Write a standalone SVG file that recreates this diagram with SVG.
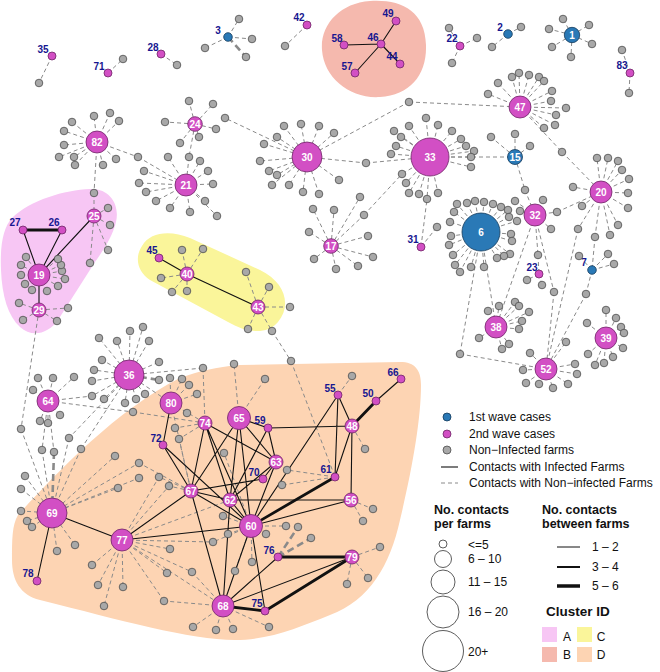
<svg xmlns="http://www.w3.org/2000/svg" width="660" height="672" viewBox="0 0 660 672">
<style>
.d{fill:none;stroke:#8a8a8a;stroke-width:1;stroke-dasharray:4 3}
.dt{fill:none;stroke:#8a8a8a;stroke-width:2.6;stroke-dasharray:7 4}
.s{fill:none;stroke:#111;stroke-width:1.1}
.s3{fill:none;stroke:#111;stroke-width:2.8}
.g circle{fill:#a8a8a8;stroke:#4d4d4d;stroke-width:0.8}
.p{fill:#d24fc4;stroke:#6e2466;stroke-width:0.8}
.b{fill:#2a79b6;stroke:#143a5a;stroke-width:0.8}
.lo{font:bold 10px "Liberation Sans",Arial,sans-serif;fill:#161690;text-anchor:middle}
.li{font:bold 10px "Liberation Sans",Arial,sans-serif;fill:#fff;text-anchor:middle}
.lg{font:12px "Liberation Sans",Arial,sans-serif;fill:#111}
.lh{font:bold 12.5px "Liberation Sans",Arial,sans-serif;fill:#111}
</style>
<rect width="660" height="672" fill="#fff"/>
<g id="clusters">
<path id="clusterA" fill="#f7c6f4" d="M12,218 C30,200 65,190 90,189 C110,188 120,205 116,222 C113,235 105,248 95,262 L58,320 C48,334 32,338 20,327 C8,316 2,296 1,270 C0,245 3,228 12,218 Z"/>
<path id="clusterB" fill="#f5b9ae" d="M322,50 C320,25 340,3 370,1 C400,-1 425,10 426,45 C427,75 410,95 380,97 C350,99 324,78 322,50 Z"/>
<path id="clusterC" fill="#faf59a" d="M142,246 C150,232 170,230 190,238 L260,270 C285,282 292,305 278,322 C266,336 245,332 228,322 L150,280 C138,272 134,258 142,246 Z"/>
<path id="clusterD" fill="#fdd4b3" d="M18,515 C50,480 115,410 180,378 C200,371 215,367 240,365 L400,362 C415,362 421,370 421,385 C421,420 412,470 400,520 C390,565 370,600 330,615 C300,627 270,640 235,640 C190,640 120,620 40,600 C20,595 12,580 12,560 C12,540 12,525 18,515 Z"/>
</g>
<g id="connectors">
<path class="d" d="M97 142L94 116M97 142L110 113M97 142L119 121M97 142L72 122M97 142L64 131M97 142L64 145M97 142L59 157M97 142L74 157M97 142L75 165M97 142L103 165M97 142L116 159M97 142L138 157M138 157L186 185M97 142L94 193M94 193L94 216"/>
<path class="d" d="M195 124L189 101M195 124L213 104M195 124L165 122M195 124L216 129M195 124L199 137M195 124L180 143M195 124L189 157M189 157L186 185"/>
<path class="d" d="M186 185L144 171M186 185L139 183M186 185L146 192M186 185L156 201M186 185L170 208M186 185L190 212M186 185L205 201M186 185L213 184M186 185L208 171M186 185L217 216M186 185L168 157M186 185L200 161"/>
<path class="d" d="M307 157L284 126M307 157L301 124M307 157L319 126M307 157L334 133M307 157L277 137M307 157L264 144M307 157L260 161M307 157L269 171M307 157L277 175M307 157L272 185M307 157L289 185M307 157L303 192M307 157L319 194M307 157L339 180M307 157L225 118M307 157L366 163M366 163L430 157M307 157L409 102M409 102L520 107"/>
<path class="d" d="M430 157L409 126M430 157L394 131M430 157L401 137M430 157L396 146M430 157L391 154M430 157L426 118M430 157L438 125M430 157L452 131M430 157L461 139M430 157L466 146M430 157L474 151M430 157L471 157M430 157L471 167M430 157L402 174M430 157L406 183M430 157L409 193M430 157L419 194M430 157L427 199M430 157L438 193M430 157L515 157"/>
<path class="d" d="M520 107L498 83M520 107L512 77M520 107L519 73M520 107L529 75M520 107L539 77M520 107L544 81M520 107L552 91M520 107L551 101M520 107L566 108M520 107L556 115M520 107L555 125M520 107L544 128M520 107L488 94M520 107L562 152M562 152L601 192"/>
<path class="d" d="M515 157L491 137M515 157L515 134M515 157L530 146M515 157L525 190M525 190L535 215"/>
<path class="d" d="M601 192L629 179M601 192L622 170M601 192L628 193M601 192L628 208M601 192L618 225M601 192L610 235M601 192L595 237M601 192L582 206M601 192L573 187M601 192L597 158M601 192L608 158M601 192L618 161M595 237L592 270M601 192L578 229M578 229L546 369"/>
<path class="d" d="M535 215L543 200M535 215L515 201M535 215L520 211M535 215L551 229M535 215L557 212M557 212L601 192M535 215L538 255M538 255L539 274M535 215L554 292M554 292L546 369M535 215L496 327"/>
<path class="d" d="M481 232L457 204M481 232L467 203M481 232L475 201M481 232L484 202M481 232L493 204M481 232L501 207M481 232L508 210M481 232L509 217M481 232L517 221M481 232L511 234M481 232L512 241M481 232L510 254M481 232L504 256M481 232L497 258M481 232L484 267M481 232L471 267M481 232L460 272M481 232L455 265M481 232L453 255M481 232L449 245M481 232L451 236M481 232L450 222M481 232L454 212M481 232L496 327M481 232L460 354M460 354L546 369"/>
<path class="d" d="M539 274L527 280M539 274L542 285M592 270L579 256M592 270L608 254M592 270L614 264M592 270L586 294M586 294L546 369"/>
<path class="d" d="M496 327L488 311M496 327L499 306M496 327L515 302M496 327L519 306M496 327L529 312M496 327L522 321M496 327L519 329M496 327L479 338M496 327L502 349M496 327L509 344"/>
<path class="d" d="M606 338L606 310M606 338L616 318M606 338L621 327M606 338L624 333M606 338L587 323M606 338L588 354M606 338L595 365M606 338L604 363M606 338L613 357M606 338L623 348"/>
<path class="d" d="M546 369L530 353M546 369L523 370M546 369L526 383M546 369L539 384M546 369L553 388M546 369L568 384M546 369L577 374M546 369L575 364M546 369L566 342"/>
<path class="d" d="M331 246L313 209M331 246L334 210M331 246L360 197M331 246L364 215M364 215L402 174M331 246L309 232M331 246L368 236M331 246L373 257M331 246L358 266M331 246L336 269M331 246L314 259M421 247L427 199M421 247L437 227"/>
<path class="d" d="M52 56L39 83M108 73L123 59M161 54L177 65M228 37L239 19M228 37L252 39M228 37L205 48M307 25L285 46M460 46L449 28M460 46L477 38M460 46L452 63M508 34L521 27M508 34L492 47M572 35L563 19M572 35L589 25M572 35L549 29M572 35L552 47M572 35L592 44M572 35L571 57M630 73L622 50M630 73L629 93"/>
<path class="dt" d="M228 37L246 57M129 375L159 380M54 452L52 513M278 557L298 527M278 557L311 538"/>
<path class="d" d="M94 216L108 208M94 216L110 225M94 216L108 250M94 216L90 263M39 275L26 257M39 275L21 265M39 275L21 275M39 275L25 284M39 275L32 290M39 275L47 291M39 275L58 286M39 275L65 279M39 275L62 271M39 275L61 265M39 275L58 259M39 310L19 303M39 310L23 320M39 310L57 321M39 310L68 308M39 310L21 429M21 429L52 513"/>
<path class="d" d="M187 274L182 250M187 274L203 249M187 274L161 278M187 274L172 292M187 274L187 291M258 307L246 272M258 307L269 287M258 307L290 307M258 307L248 329M258 307L272 331M272 331L291 361M291 361L335 477"/>
<path class="d" d="M129 375L99 338M129 375L117 341M129 375L130 331M129 375L143 327M129 375L149 341M129 375L102 360M129 375L94 370M129 375L92 381M129 375L92 396M129 375L104 399M129 375L125 403M129 375L136 399M129 375L145 394M129 375L159 362M129 375L203 368M203 368L205 423M129 375L69 438M69 438L52 513M129 375L81 449M81 449L52 513M129 375L171 403"/>
<path class="d" d="M48 401L38 378M48 401L53 378M48 401L74 377M48 401L33 390M48 401L60 415M48 401L40 421M48 401L48 423M48 401L92 396M48 401L133 412M133 412L205 423M48 401L42 450M42 450L52 513M48 401L54 452"/>
<path class="d" d="M171 403L170 378M171 403L182 379M171 403L189 385M171 403L197 394M171 403L187 413M171 403L205 423M171 403L191 491M205 423L175 428M205 423L179 439M239 418L234 364M239 418L265 379M338 395L352 376M352 426L365 449M335 477L287 470M335 477L282 485M251 526L224 453"/>
<path class="d" d="M251 526L286 526M251 526L266 534M251 526L252 562M251 526L235 571M251 526L228 534M251 526L223 516M251 526L213 542M351 500L373 509M351 500L363 521M352 557L380 547M352 557L368 578M352 557L347 584M223 606L233 629M223 606L193 627M223 606L216 630M223 606L269 627M223 606L164 601M223 606L192 572"/>
<path class="d" d="M52 513L21 511M52 513L27 521M52 513L32 527M52 513L57 551M52 513L75 545M52 513L115 456M52 513L118 488M52 513L139 478M52 513L139 463M52 513L25 476M52 513L21 489"/>
<path class="d" d="M122 540L92 565M122 540L98 585M122 540L123 587M122 540L104 606M122 540L170 549M122 540L167 573M122 540L164 601M122 540L192 572M122 540L213 542M122 540L159 477M122 540L169 486M122 540L230 500M122 540L223 606M191 491L179 439M191 491L159 477M191 491L169 486M191 491L139 463"/>
<path class="s" d="M381 44L396 21M381 44L344 45M381 44L400 64M381 44L355 73M23 230L39 275M62 230L39 275M94 216L39 275M39 275L39 310M159 258L187 274M187 274L258 307"/>
<path class="s" d="M171 403L163 445M163 445L191 491M163 445L251 526M205 423L191 491M205 423L230 500M205 423L251 526M205 423L276 462M239 418L268 428M239 418L276 462M239 418L191 491M239 418L230 500M239 418L251 526M268 428L352 426M268 428L276 462M268 428L230 500M276 462L251 526M276 462L230 500M263 479L276 462M263 479L191 491M338 395L352 426M338 395L335 477M338 395L251 526M352 426L335 477M352 426L351 500M376 401L401 379M351 500L251 526M351 500L230 500M191 491L122 540M191 491L230 500M191 491L251 526M191 491L223 606M230 500L251 526M230 500L223 606M251 526L223 606M251 526L265 611M122 540L52 513M52 513L37 581M122 540L251 526M278 557L223 606M223 606L352 557"/>
<path class="s3" d="M23 230L62 230M352 426L376 401M278 557L352 557M265 611L352 557M223 606L265 611M335 477L251 526"/>
</g>
<g id="nodes">
<g id="n35"><circle class="p" cx="52" cy="56" r="4"/><text class="lo" x="43" y="53">35</text></g>
<g id="n71"><circle class="p" cx="108" cy="73" r="4"/><text class="lo" x="99" y="70">71</text></g>
<g id="n28"><circle class="p" cx="161" cy="54" r="4"/><text class="lo" x="153" y="51">28</text></g>
<g id="n3"><circle class="b" cx="228" cy="37" r="4.3"/><text class="lo" x="218" y="34">3</text></g>
<g id="n42"><circle class="p" cx="307" cy="25" r="4"/><text class="lo" x="299" y="21">42</text></g>
<g id="n49"><circle class="p" cx="396" cy="21" r="4"/><text class="lo" x="388" y="17">49</text></g>
<g id="n58"><circle class="p" cx="344" cy="45" r="4"/><text class="lo" x="337" y="42">58</text></g>
<g id="n46"><circle class="p" cx="381" cy="44" r="4"/><text class="lo" x="373" y="41">46</text></g>
<g id="n44"><circle class="p" cx="400" cy="64" r="4"/><text class="lo" x="392" y="60">44</text></g>
<g id="n57"><circle class="p" cx="355" cy="73" r="4"/><text class="lo" x="347" y="70">57</text></g>
<g id="n22"><circle class="p" cx="460" cy="46" r="4"/><text class="lo" x="452" y="42">22</text></g>
<g id="n2"><circle class="b" cx="508" cy="34" r="4.3"/><text class="lo" x="500" y="31">2</text></g>
<g id="n1"><circle class="b" cx="572" cy="35" r="7.7"/><text class="li" x="572" y="38.5">1</text></g>
<g id="n83"><circle class="p" cx="630" cy="73" r="4"/><text class="lo" x="622" y="69">83</text></g>
<g id="n82"><circle class="p" cx="97" cy="142" r="11"/><text class="li" x="97" y="145.5">82</text></g>
<g id="n24"><circle class="p" cx="195" cy="124" r="7.3"/><text class="li" x="195" y="127.5">24</text></g>
<g id="n21"><circle class="p" cx="186" cy="185" r="11"/><text class="li" x="186" y="188.5">21</text></g>
<g id="n30"><circle class="p" cx="307" cy="157" r="15"/><text class="li" x="307" y="160.5">30</text></g>
<g id="n33"><circle class="p" cx="430" cy="157" r="19"/><text class="li" x="430" y="160.5">33</text></g>
<g id="n47"><circle class="p" cx="520" cy="107" r="11"/><text class="li" x="520" y="110.5">47</text></g>
<g id="n15"><circle class="b" cx="515" cy="157" r="7.5"/><text class="li" x="515" y="160.5">15</text></g>
<g id="n20"><circle class="p" cx="601" cy="192" r="11"/><text class="li" x="601" y="195.5">20</text></g>
<g id="n32"><circle class="p" cx="535" cy="215" r="11"/><text class="li" x="535" y="218.5">32</text></g>
<g id="n6"><circle class="b" cx="481" cy="232" r="19"/><text class="li" x="481" y="235.5">6</text></g>
<g id="n17"><circle class="p" cx="331" cy="246" r="7.3"/><text class="li" x="331" y="249.5">17</text></g>
<g id="n31"><circle class="p" cx="421" cy="247" r="4"/><text class="lo" x="413" y="243">31</text></g>
<g id="n23"><circle class="p" cx="539" cy="274" r="4"/><text class="lo" x="532" y="271">23</text></g>
<g id="n7"><circle class="b" cx="592" cy="270" r="4.3"/><text class="lo" x="584" y="266">7</text></g>
<g id="n38"><circle class="p" cx="496" cy="327" r="11"/><text class="li" x="496" y="330.5">38</text></g>
<g id="n39"><circle class="p" cx="606" cy="338" r="11"/><text class="li" x="606" y="341.5">39</text></g>
<g id="n52"><circle class="p" cx="546" cy="369" r="11"/><text class="li" x="546" y="372.5">52</text></g>
<g id="n25"><circle class="p" cx="94" cy="216" r="7"/><text class="li" x="94" y="219.5">25</text></g>
<g id="n27"><circle class="p" cx="23" cy="230" r="4"/><text class="lo" x="15" y="226">27</text></g>
<g id="n26"><circle class="p" cx="62" cy="230" r="4"/><text class="lo" x="54" y="226">26</text></g>
<g id="n19"><circle class="p" cx="39" cy="275" r="11"/><text class="li" x="39" y="278.5">19</text></g>
<g id="n29"><circle class="p" cx="39" cy="310" r="7"/><text class="li" x="39" y="313.5">29</text></g>
<g id="n45"><circle class="p" cx="159" cy="258" r="4"/><text class="lo" x="152" y="254">45</text></g>
<g id="n40"><circle class="p" cx="187" cy="274" r="7"/><text class="li" x="187" y="277.5">40</text></g>
<g id="n43"><circle class="p" cx="258" cy="307" r="7"/><text class="li" x="258" y="310.5">43</text></g>
<g id="n36"><circle class="p" cx="129" cy="375" r="15"/><text class="li" x="129" y="378.5">36</text></g>
<g id="n64"><circle class="p" cx="48" cy="401" r="11"/><text class="li" x="48" y="404.5">64</text></g>
<g id="n80"><circle class="p" cx="171" cy="403" r="11"/><text class="li" x="171" y="406.5">80</text></g>
<g id="n74"><circle class="p" cx="205" cy="423" r="7"/><text class="li" x="205" y="426.5">74</text></g>
<g id="n65"><circle class="p" cx="239" cy="418" r="11.5"/><text class="li" x="239" y="421.5">65</text></g>
<g id="n59"><circle class="p" cx="268" cy="428" r="4"/><text class="lo" x="260" y="424">59</text></g>
<g id="n63"><circle class="p" cx="276" cy="462" r="7"/><text class="li" x="276" y="465.5">63</text></g>
<g id="n70"><circle class="p" cx="263" cy="479" r="4"/><text class="lo" x="254" y="476">70</text></g>
<g id="n72"><circle class="p" cx="163" cy="445" r="4"/><text class="lo" x="156" y="442">72</text></g>
<g id="n67"><circle class="p" cx="191" cy="491" r="7"/><text class="li" x="191" y="494.5">67</text></g>
<g id="n62"><circle class="p" cx="230" cy="500" r="7"/><text class="li" x="230" y="503.5">62</text></g>
<g id="n60"><circle class="p" cx="251" cy="526" r="11.5"/><text class="li" x="251" y="529.5">60</text></g>
<g id="n55"><circle class="p" cx="338" cy="395" r="4"/><text class="lo" x="330" y="392">55</text></g>
<g id="n50"><circle class="p" cx="376" cy="401" r="4"/><text class="lo" x="368" y="397">50</text></g>
<g id="n66"><circle class="p" cx="401" cy="379" r="4"/><text class="lo" x="393" y="376">66</text></g>
<g id="n48"><circle class="p" cx="352" cy="426" r="7"/><text class="li" x="352" y="429.5">48</text></g>
<g id="n61"><circle class="p" cx="335" cy="477" r="4"/><text class="lo" x="326" y="473">61</text></g>
<g id="n56"><circle class="p" cx="351" cy="500" r="7"/><text class="li" x="351" y="503.5">56</text></g>
<g id="n69"><circle class="p" cx="52" cy="513" r="15"/><text class="li" x="52" y="516.5">69</text></g>
<g id="n77"><circle class="p" cx="122" cy="540" r="11"/><text class="li" x="122" y="543.5">77</text></g>
<g id="n78"><circle class="p" cx="37" cy="581" r="4"/><text class="lo" x="28" y="577">78</text></g>
<g id="n76"><circle class="p" cx="278" cy="557" r="4"/><text class="lo" x="269" y="554">76</text></g>
<g id="n79"><circle class="p" cx="352" cy="557" r="7"/><text class="li" x="352" y="560.5">79</text></g>
<g id="n68"><circle class="p" cx="223" cy="606" r="11"/><text class="li" x="223" y="609.5">68</text></g>
<g id="n75"><circle class="p" cx="265" cy="611" r="4"/><text class="lo" x="257" y="607">75</text></g>
</g>
<g id="noninfected" class="g">
<g id="top-contacts"><circle cx="39" cy="83" r="3.8"/><circle cx="123" cy="59" r="3.8"/><circle cx="177" cy="65" r="3.8"/><circle cx="239" cy="19" r="3.8"/><circle cx="252" cy="39" r="3.8"/><circle cx="246" cy="57" r="3.8"/><circle cx="205" cy="48" r="3.8"/><circle cx="285" cy="46" r="3.8"/><circle cx="449" cy="28" r="3.8"/><circle cx="477" cy="38" r="3.8"/><circle cx="452" cy="63" r="3.8"/><circle cx="521" cy="27" r="3.8"/><circle cx="492" cy="47" r="3.8"/><circle cx="563" cy="19" r="3.8"/><circle cx="589" cy="25" r="3.8"/><circle cx="549" cy="29" r="3.8"/><circle cx="552" cy="47" r="3.8"/><circle cx="592" cy="44" r="3.8"/><circle cx="571" cy="57" r="3.8"/><circle cx="622" cy="50" r="3.8"/><circle cx="629" cy="93" r="3.8"/></g>
<g id="c82"><circle cx="94" cy="116" r="3.8"/><circle cx="110" cy="113" r="3.8"/><circle cx="119" cy="121" r="3.8"/><circle cx="72" cy="122" r="3.8"/><circle cx="64" cy="131" r="3.8"/><circle cx="64" cy="145" r="3.8"/><circle cx="59" cy="157" r="3.8"/><circle cx="74" cy="157" r="3.8"/><circle cx="75" cy="165" r="3.8"/><circle cx="103" cy="165" r="3.8"/><circle cx="116" cy="159" r="3.8"/><circle cx="138" cy="157" r="3.8"/><circle cx="94" cy="193" r="3.8"/></g>
<g id="c24"><circle cx="189" cy="101" r="3.8"/><circle cx="213" cy="104" r="3.8"/><circle cx="165" cy="122" r="3.8"/><circle cx="216" cy="129" r="3.8"/><circle cx="199" cy="137" r="3.8"/><circle cx="180" cy="143" r="3.8"/><circle cx="189" cy="157" r="3.8"/></g>
<g id="c21"><circle cx="144" cy="171" r="3.8"/><circle cx="139" cy="183" r="3.8"/><circle cx="146" cy="192" r="3.8"/><circle cx="156" cy="201" r="3.8"/><circle cx="170" cy="208" r="3.8"/><circle cx="190" cy="212" r="3.8"/><circle cx="205" cy="201" r="3.8"/><circle cx="213" cy="184" r="3.8"/><circle cx="208" cy="171" r="3.8"/><circle cx="217" cy="216" r="3.8"/><circle cx="168" cy="157" r="3.8"/><circle cx="200" cy="161" r="3.8"/></g>
<g id="c30"><circle cx="284" cy="126" r="3.8"/><circle cx="301" cy="124" r="3.8"/><circle cx="319" cy="126" r="3.8"/><circle cx="334" cy="133" r="3.8"/><circle cx="277" cy="137" r="3.8"/><circle cx="264" cy="144" r="3.8"/><circle cx="260" cy="161" r="3.8"/><circle cx="269" cy="171" r="3.8"/><circle cx="277" cy="175" r="3.8"/><circle cx="272" cy="185" r="3.8"/><circle cx="289" cy="185" r="3.8"/><circle cx="303" cy="192" r="3.8"/><circle cx="319" cy="194" r="3.8"/><circle cx="339" cy="180" r="3.8"/><circle cx="225" cy="118" r="3.8"/><circle cx="366" cy="163" r="3.8"/><circle cx="409" cy="102" r="3.8"/></g>
<g id="c33"><circle cx="409" cy="126" r="3.8"/><circle cx="394" cy="131" r="3.8"/><circle cx="401" cy="137" r="3.8"/><circle cx="396" cy="146" r="3.8"/><circle cx="391" cy="154" r="3.8"/><circle cx="426" cy="118" r="3.8"/><circle cx="438" cy="125" r="3.8"/><circle cx="452" cy="131" r="3.8"/><circle cx="461" cy="139" r="3.8"/><circle cx="466" cy="146" r="3.8"/><circle cx="474" cy="151" r="3.8"/><circle cx="471" cy="157" r="3.8"/><circle cx="471" cy="167" r="3.8"/><circle cx="402" cy="174" r="3.8"/><circle cx="406" cy="183" r="3.8"/><circle cx="409" cy="193" r="3.8"/><circle cx="419" cy="194" r="3.8"/><circle cx="427" cy="199" r="3.8"/><circle cx="438" cy="193" r="3.8"/><circle cx="437" cy="227" r="3.8"/></g>
<g id="c47"><circle cx="498" cy="83" r="3.8"/><circle cx="512" cy="77" r="3.8"/><circle cx="519" cy="73" r="3.8"/><circle cx="529" cy="75" r="3.8"/><circle cx="539" cy="77" r="3.8"/><circle cx="544" cy="81" r="3.8"/><circle cx="552" cy="91" r="3.8"/><circle cx="551" cy="101" r="3.8"/><circle cx="566" cy="108" r="3.8"/><circle cx="556" cy="115" r="3.8"/><circle cx="555" cy="125" r="3.8"/><circle cx="544" cy="128" r="3.8"/><circle cx="488" cy="94" r="3.8"/><circle cx="562" cy="152" r="3.8"/></g>
<g id="c15-20-32"><circle cx="491" cy="137" r="3.8"/><circle cx="515" cy="134" r="3.8"/><circle cx="530" cy="146" r="3.8"/><circle cx="525" cy="190" r="3.8"/><circle cx="629" cy="179" r="3.8"/><circle cx="622" cy="170" r="3.8"/><circle cx="628" cy="193" r="3.8"/><circle cx="628" cy="208" r="3.8"/><circle cx="618" cy="225" r="3.8"/><circle cx="610" cy="235" r="3.8"/><circle cx="595" cy="237" r="3.8"/><circle cx="582" cy="206" r="3.8"/><circle cx="573" cy="187" r="3.8"/><circle cx="597" cy="158" r="3.8"/><circle cx="608" cy="158" r="3.8"/><circle cx="618" cy="161" r="3.8"/><circle cx="578" cy="229" r="3.8"/><circle cx="543" cy="200" r="3.8"/><circle cx="515" cy="201" r="3.8"/><circle cx="520" cy="211" r="3.8"/><circle cx="551" cy="229" r="3.8"/><circle cx="557" cy="212" r="3.8"/><circle cx="538" cy="255" r="3.8"/><circle cx="554" cy="292" r="3.8"/></g>
<g id="c6"><circle cx="457" cy="204" r="3.8"/><circle cx="467" cy="203" r="3.8"/><circle cx="475" cy="201" r="3.8"/><circle cx="484" cy="202" r="3.8"/><circle cx="493" cy="204" r="3.8"/><circle cx="501" cy="207" r="3.8"/><circle cx="508" cy="210" r="3.8"/><circle cx="509" cy="217" r="3.8"/><circle cx="517" cy="221" r="3.8"/><circle cx="511" cy="234" r="3.8"/><circle cx="512" cy="241" r="3.8"/><circle cx="510" cy="254" r="3.8"/><circle cx="504" cy="256" r="3.8"/><circle cx="497" cy="258" r="3.8"/><circle cx="484" cy="267" r="3.8"/><circle cx="471" cy="267" r="3.8"/><circle cx="460" cy="272" r="3.8"/><circle cx="455" cy="265" r="3.8"/><circle cx="453" cy="255" r="3.8"/><circle cx="449" cy="245" r="3.8"/><circle cx="451" cy="236" r="3.8"/><circle cx="450" cy="222" r="3.8"/><circle cx="454" cy="212" r="3.8"/><circle cx="460" cy="354" r="3.8"/></g>
<g id="c23-7"><circle cx="527" cy="280" r="3.8"/><circle cx="542" cy="285" r="3.8"/><circle cx="579" cy="256" r="3.8"/><circle cx="608" cy="254" r="3.8"/><circle cx="614" cy="264" r="3.8"/><circle cx="586" cy="294" r="3.8"/></g>
<g id="c38"><circle cx="488" cy="311" r="3.8"/><circle cx="499" cy="306" r="3.8"/><circle cx="515" cy="302" r="3.8"/><circle cx="519" cy="306" r="3.8"/><circle cx="529" cy="312" r="3.8"/><circle cx="522" cy="321" r="3.8"/><circle cx="519" cy="329" r="3.8"/><circle cx="479" cy="338" r="3.8"/><circle cx="502" cy="349" r="3.8"/><circle cx="509" cy="344" r="3.8"/></g>
<g id="c39"><circle cx="606" cy="310" r="3.8"/><circle cx="616" cy="318" r="3.8"/><circle cx="621" cy="327" r="3.8"/><circle cx="624" cy="333" r="3.8"/><circle cx="587" cy="323" r="3.8"/><circle cx="588" cy="354" r="3.8"/><circle cx="595" cy="365" r="3.8"/><circle cx="604" cy="363" r="3.8"/><circle cx="613" cy="357" r="3.8"/><circle cx="623" cy="348" r="3.8"/></g>
<g id="c52"><circle cx="530" cy="353" r="3.8"/><circle cx="523" cy="370" r="3.8"/><circle cx="526" cy="383" r="3.8"/><circle cx="539" cy="384" r="3.8"/><circle cx="553" cy="388" r="3.8"/><circle cx="568" cy="384" r="3.8"/><circle cx="577" cy="374" r="3.8"/><circle cx="575" cy="364" r="3.8"/><circle cx="566" cy="342" r="3.8"/></g>
<g id="c17"><circle cx="313" cy="209" r="3.8"/><circle cx="334" cy="210" r="3.8"/><circle cx="360" cy="197" r="3.8"/><circle cx="364" cy="215" r="3.8"/><circle cx="309" cy="232" r="3.8"/><circle cx="368" cy="236" r="3.8"/><circle cx="373" cy="257" r="3.8"/><circle cx="358" cy="266" r="3.8"/><circle cx="336" cy="269" r="3.8"/><circle cx="314" cy="259" r="3.8"/></g>
<g id="cA"><circle cx="108" cy="208" r="3.8"/><circle cx="110" cy="225" r="3.8"/><circle cx="108" cy="250" r="3.8"/><circle cx="90" cy="263" r="3.8"/><circle cx="26" cy="257" r="3.8"/><circle cx="21" cy="265" r="3.8"/><circle cx="21" cy="275" r="3.8"/><circle cx="25" cy="284" r="3.8"/><circle cx="32" cy="290" r="3.8"/><circle cx="47" cy="291" r="3.8"/><circle cx="58" cy="286" r="3.8"/><circle cx="65" cy="279" r="3.8"/><circle cx="62" cy="271" r="3.8"/><circle cx="61" cy="265" r="3.8"/><circle cx="58" cy="259" r="3.8"/><circle cx="19" cy="303" r="3.8"/><circle cx="23" cy="320" r="3.8"/><circle cx="57" cy="321" r="3.8"/><circle cx="68" cy="308" r="3.8"/></g>
<g id="cC"><circle cx="182" cy="250" r="3.8"/><circle cx="203" cy="249" r="3.8"/><circle cx="161" cy="278" r="3.8"/><circle cx="172" cy="292" r="3.8"/><circle cx="187" cy="291" r="3.8"/><circle cx="246" cy="272" r="3.8"/><circle cx="269" cy="287" r="3.8"/><circle cx="290" cy="307" r="3.8"/><circle cx="248" cy="329" r="3.8"/><circle cx="272" cy="331" r="3.8"/></g>
<g id="c36-64"><circle cx="99" cy="338" r="3.8"/><circle cx="117" cy="341" r="3.8"/><circle cx="130" cy="331" r="3.8"/><circle cx="143" cy="327" r="3.8"/><circle cx="149" cy="341" r="3.8"/><circle cx="102" cy="360" r="3.8"/><circle cx="94" cy="370" r="3.8"/><circle cx="92" cy="381" r="3.8"/><circle cx="92" cy="396" r="3.8"/><circle cx="104" cy="399" r="3.8"/><circle cx="125" cy="403" r="3.8"/><circle cx="136" cy="399" r="3.8"/><circle cx="145" cy="394" r="3.8"/><circle cx="159" cy="362" r="3.8"/><circle cx="159" cy="380" r="3.8"/><circle cx="203" cy="368" r="3.8"/><circle cx="69" cy="438" r="3.8"/><circle cx="81" cy="449" r="3.8"/><circle cx="38" cy="378" r="3.8"/><circle cx="53" cy="378" r="3.8"/><circle cx="74" cy="377" r="3.8"/><circle cx="33" cy="390" r="3.8"/><circle cx="60" cy="415" r="3.8"/><circle cx="40" cy="421" r="3.8"/><circle cx="48" cy="423" r="3.8"/><circle cx="133" cy="412" r="3.8"/><circle cx="42" cy="450" r="3.8"/><circle cx="54" cy="452" r="3.8"/><circle cx="21" cy="429" r="3.8"/></g>
<g id="cD"><circle cx="170" cy="378" r="3.8"/><circle cx="182" cy="379" r="3.8"/><circle cx="189" cy="385" r="3.8"/><circle cx="197" cy="394" r="3.8"/><circle cx="187" cy="413" r="3.8"/><circle cx="175" cy="428" r="3.8"/><circle cx="179" cy="439" r="3.8"/><circle cx="234" cy="364" r="3.8"/><circle cx="265" cy="379" r="3.8"/><circle cx="291" cy="361" r="3.8"/><circle cx="352" cy="376" r="3.8"/><circle cx="365" cy="449" r="3.8"/><circle cx="224" cy="453" r="3.8"/><circle cx="287" cy="470" r="3.8"/><circle cx="282" cy="485" r="3.8"/><circle cx="286" cy="526" r="3.8"/><circle cx="298" cy="527" r="3.8"/><circle cx="311" cy="538" r="3.8"/><circle cx="266" cy="534" r="3.8"/><circle cx="252" cy="562" r="3.8"/><circle cx="235" cy="571" r="3.8"/><circle cx="228" cy="534" r="3.8"/><circle cx="223" cy="516" r="3.8"/><circle cx="373" cy="509" r="3.8"/><circle cx="363" cy="521" r="3.8"/><circle cx="380" cy="547" r="3.8"/><circle cx="368" cy="578" r="3.8"/><circle cx="347" cy="584" r="3.8"/><circle cx="233" cy="629" r="3.8"/><circle cx="269" cy="627" r="3.8"/><circle cx="193" cy="627" r="3.8"/><circle cx="216" cy="630" r="3.8"/><circle cx="21" cy="511" r="3.8"/><circle cx="27" cy="521" r="3.8"/><circle cx="32" cy="527" r="3.8"/><circle cx="57" cy="551" r="3.8"/><circle cx="75" cy="545" r="3.8"/><circle cx="115" cy="456" r="3.8"/><circle cx="118" cy="488" r="3.8"/><circle cx="139" cy="478" r="3.8"/><circle cx="139" cy="463" r="3.8"/><circle cx="159" cy="477" r="3.8"/><circle cx="169" cy="486" r="3.8"/><circle cx="25" cy="476" r="3.8"/><circle cx="21" cy="489" r="3.8"/><circle cx="92" cy="565" r="3.8"/><circle cx="98" cy="585" r="3.8"/><circle cx="123" cy="587" r="3.8"/><circle cx="104" cy="606" r="3.8"/><circle cx="170" cy="549" r="3.8"/><circle cx="167" cy="573" r="3.8"/><circle cx="164" cy="601" r="3.8"/><circle cx="192" cy="572" r="3.8"/><circle cx="213" cy="542" r="3.8"/></g>
</g>
<g id="legend">
<circle class="b" cx="447" cy="417" r="4"/><text class="lg" x="469" y="421">1st wave cases</text>
<circle class="p" cx="447" cy="434" r="4"/><text class="lg" x="469" y="438">2nd wave cases</text>
<circle cx="447" cy="450" r="4" fill="#a8a8a8" stroke="#4d4d4d" stroke-width="0.8"/><text class="lg" x="469" y="454">Non−Infected farms</text>
<line x1="441" y1="467" x2="458" y2="467" stroke="#111" stroke-width="1.1"/><text class="lg" x="469" y="471">Contacts with Infected Farms</text>
<line x1="441" y1="483" x2="458" y2="483" class="d"/><text class="lg" x="469" y="487">Contacts with Non−infected Farms</text>
<text class="lh" x="434" y="514">No. contacts</text><text class="lh" x="434" y="528">per farms</text>
<g fill="none" stroke="#333" stroke-width="0.8"><circle cx="443" cy="544" r="4"/><circle cx="443" cy="559" r="8.5"/><circle cx="443" cy="582" r="12"/><circle cx="443" cy="612" r="16"/><circle cx="443" cy="651" r="20.5"/></g>
<text class="lg" x="468" y="549">&lt;=5</text><text class="lg" x="468" y="563">6 – 10</text><text class="lg" x="468" y="586">11 – 15</text><text class="lg" x="468" y="616">16 – 20</text><text class="lg" x="468" y="656">20+</text>
<text class="lh" x="542" y="514">No. contacts</text><text class="lh" x="542" y="528">between farms</text>
<line x1="557" y1="547" x2="580" y2="547" stroke="#111" stroke-width="1"/><text class="lg" x="592" y="551">1 – 2</text>
<line x1="557" y1="567" x2="580" y2="567" stroke="#111" stroke-width="2"/><text class="lg" x="592" y="571">3 – 4</text>
<line x1="557" y1="586" x2="580" y2="586" stroke="#111" stroke-width="3.5"/><text class="lg" x="592" y="590">5 – 6</text>
<text class="lh" x="546" y="616" style="font-size:13.5px">Cluster ID</text>
<rect x="542" y="627" width="15" height="15" fill="#f7c6f4"/><text class="lg" x="567" y="641" text-anchor="middle">A</text>
<rect x="577" y="627" width="15" height="15" fill="#faf59a"/><text class="lg" x="601" y="641" text-anchor="middle">C</text>
<rect x="542" y="647" width="15" height="15" fill="#f5b9ae"/><text class="lg" x="567" y="659" text-anchor="middle">B</text>
<rect x="577" y="647" width="15" height="15" fill="#fdd4b3"/><text class="lg" x="601" y="659" text-anchor="middle">D</text>
</g>
</svg>
